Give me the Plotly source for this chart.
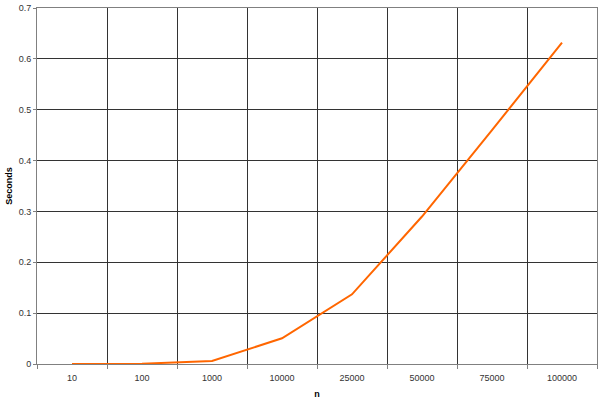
import plotly.graph_objects as go

categories = ["10", "100", "1000", "10000", "25000", "50000", "75000", "100000"]
seconds = [0.0, 0.0005, 0.006, 0.0505, 0.137, 0.29, 0.46, 0.632]

fig = go.Figure()
fig.add_trace(go.Scatter(
    x=categories, y=seconds, mode="lines",
    line=dict(color="#FF6600", width=2),
    showlegend=False,
))

font = dict(family="Liberation Sans, Arial, sans-serif", size=9, color="#333333")

fig.update_layout(
    width=600, height=399,
    margin=dict(l=37, r=3, t=8, b=35),
    paper_bgcolor="white", plot_bgcolor="white",
    font=font,
    xaxis=dict(
        type="category",
        tickson="boundaries",
        automargin=False,
        showgrid=True, gridcolor="#333333", gridwidth=1,
        ticks="outside", ticklen=4, tickcolor="#808080",
        ticklabelstandoff=5,
        showline=True, linecolor="#808080", linewidth=1, mirror=True,
        title=dict(text="<b>n</b>", font=dict(size=9, color="#000000"), standoff=8),
        range=[-0.5, 7.5],
        tickfont=font,
    ),
    yaxis=dict(
        range=[0, 0.7], dtick=0.1, tickformat=".1~f",
        automargin=False,
        showgrid=True, gridcolor="#333333", gridwidth=1,
        ticks="outside", ticklen=3, tickcolor="#808080",
        showline=True, linecolor="#808080", linewidth=1, mirror=True,
        zeroline=False,
        title=dict(text="<b>Seconds</b>", font=dict(size=9, color="#000000"), standoff=4),
        tickfont=font,
    ),
)

fig.write_html("out.html", config={"displayModeBar": False},
               post_script="document.body.style.margin='0';")
